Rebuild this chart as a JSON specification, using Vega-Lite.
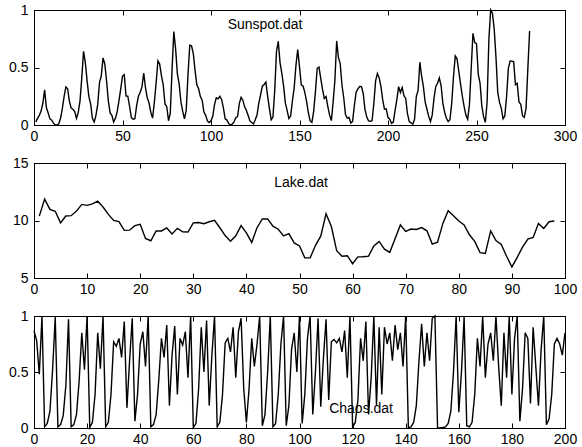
{
  "$schema": "https://vega.github.io/schema/vega-lite/v6.json",
  "padding": {"left": 8, "top": 2, "right": 5, "bottom": 2},
  "background": "white",
  "spacing": 38,
  "bounds": "flush",
  "config": {
    "view": {"stroke": "black", "strokeWidth": 1},
    "axis": {
      "domainColor": "black", "tickColor": "black", "labelColor": "black",
      "labelFont": "Liberation Sans", "labelFontSize": 14,
      "tickSize": -5, "labelPadding": 11, "grid": false,
      "labelFlush": false, "labelOverlap": false, "labelBound": false
    },
    "axisBottom": {"labelPadding": 9}
  },
  "datasets": {
    "sunspot": [
      {"t":1,"v":0.026},{"t":2,"v":0.058},{"t":3,"v":0.084},{"t":4,"v":0.121},{"t":5,"v":0.189},{"t":6,"v":0.305},{"t":7,"v":0.152},{"t":8,"v":0.105},{"t":9,"v":0.053},{"t":10,"v":0.042},
      {"t":11,"v":0.016},{"t":12,"v":0},{"t":13,"v":0},{"t":14,"v":0.011},{"t":15,"v":0.058},{"t":16,"v":0.142},{"t":17,"v":0.247},{"t":18,"v":0.331},{"t":19,"v":0.315},{"t":20,"v":0.205},
      {"t":21,"v":0.147},{"t":22,"v":0.137},{"t":23,"v":0.116},{"t":24,"v":0.058},{"t":25,"v":0.110},{"t":26,"v":0.210},{"t":27,"v":0.410},{"t":28,"v":0.641},{"t":29,"v":0.542},{"t":30,"v":0.384},
      {"t":31,"v":0.247},{"t":32,"v":0.184},{"t":33,"v":0.058},{"t":34,"v":0.026},{"t":35,"v":0.084},{"t":36,"v":0.179},{"t":37,"v":0.368},{"t":38,"v":0.426},{"t":39,"v":0.584},{"t":40,"v":0.531},
      {"t":41,"v":0.384},{"t":42,"v":0.210},{"t":43,"v":0.105},{"t":44,"v":0.084},{"t":45,"v":0.026},{"t":46,"v":0.058},{"t":47,"v":0.116},{"t":48,"v":0.210},{"t":49,"v":0.315},{"t":50,"v":0.425},
      {"t":51,"v":0.438},{"t":52,"v":0.251},{"t":53,"v":0.251},{"t":54,"v":0.161},{"t":55,"v":0.064},{"t":56,"v":0.050},{"t":57,"v":0.054},{"t":58,"v":0.170},{"t":59,"v":0.250},{"t":60,"v":0.284},
      {"t":61,"v":0.331},{"t":62,"v":0.452},{"t":63,"v":0.322},{"t":64,"v":0.237},{"t":65,"v":0.191},{"t":66,"v":0.110},{"t":67,"v":0.060},{"t":68,"v":0.199},{"t":69,"v":0.367},{"t":70,"v":0.558},
      {"t":71,"v":0.530},{"t":72,"v":0.429},{"t":73,"v":0.350},{"t":74,"v":0.183},{"t":75,"v":0.161},{"t":76,"v":0.037},{"t":77,"v":0.104},{"t":78,"v":0.486},{"t":79,"v":0.812},{"t":80,"v":0.662},
      {"t":81,"v":0.446},{"t":82,"v":0.358},{"t":83,"v":0.202},{"t":84,"v":0.120},{"t":85,"v":0.054},{"t":86,"v":0.127},{"t":87,"v":0.436},{"t":88,"v":0.694},{"t":89,"v":0.688},{"t":90,"v":0.621},
      {"t":91,"v":0.473},{"t":92,"v":0.350},{"t":93,"v":0.315},{"t":94,"v":0.247},{"t":95,"v":0.216},{"t":96,"v":0.112},{"t":97,"v":0.084},{"t":98,"v":0.034},{"t":99,"v":0.022},{"t":100,"v":0.036},
      {"t":101,"v":0.076},{"t":102,"v":0.179},{"t":103,"v":0.237},{"t":104,"v":0.227},{"t":105,"v":0.250},{"t":106,"v":0.222},{"t":107,"v":0.148},{"t":108,"v":0.053},{"t":109,"v":0.043},{"t":110,"v":0.013},
      {"t":111,"v":0},{"t":112,"v":0.007},{"t":113,"v":0.026},{"t":114,"v":0.064},{"t":115,"v":0.073},{"t":116,"v":0.186},{"t":117,"v":0.241},{"t":118,"v":0.216},{"t":119,"v":0.158},{"t":120,"v":0.126},
      {"t":121,"v":0.082},{"t":122,"v":0.035},{"t":123,"v":0.021},{"t":124,"v":0.009},{"t":125,"v":0.045},{"t":126,"v":0.087},{"t":127,"v":0.191},{"t":128,"v":0.261},{"t":129,"v":0.338},{"t":130,"v":0.352},
      {"t":131,"v":0.373},{"t":132,"v":0.251},{"t":133,"v":0.145},{"t":134,"v":0.045},{"t":135,"v":0.069},{"t":136,"v":0.299},{"t":137,"v":0.639},{"t":138,"v":0.727},{"t":139,"v":0.543},{"t":140,"v":0.451},
      {"t":141,"v":0.340},{"t":142,"v":0.193},{"t":143,"v":0.127},{"t":144,"v":0.056},{"t":145,"v":0.079},{"t":146,"v":0.211},{"t":147,"v":0.323},{"t":148,"v":0.518},{"t":149,"v":0.656},{"t":150,"v":0.506},
      {"t":151,"v":0.350},{"t":152,"v":0.339},{"t":153,"v":0.284},{"t":154,"v":0.205},{"t":155,"v":0.108},{"t":156,"v":0.035},{"t":157,"v":0.023},{"t":158,"v":0.119},{"t":159,"v":0.288},{"t":160,"v":0.493},
      {"t":161,"v":0.504},{"t":162,"v":0.406},{"t":163,"v":0.311},{"t":164,"v":0.231},{"t":165,"v":0.247},{"t":166,"v":0.160},{"t":167,"v":0.086},{"t":168,"v":0.038},{"t":169,"v":0.198},{"t":170,"v":0.389},
      {"t":171,"v":0.731},{"t":172,"v":0.585},{"t":173,"v":0.534},{"t":174,"v":0.348},{"t":175,"v":0.235},{"t":176,"v":0.089},{"t":177,"v":0.059},{"t":178,"v":0.065},{"t":179,"v":0.018},{"t":180,"v":0.032},
      {"t":181,"v":0.170},{"t":182,"v":0.285},{"t":183,"v":0.314},{"t":184,"v":0.335},{"t":185,"v":0.334},{"t":186,"v":0.274},{"t":187,"v":0.134},{"t":188,"v":0.069},{"t":189,"v":0.036},{"t":190,"v":0.033},
      {"t":191,"v":0.037},{"t":192,"v":0.187},{"t":193,"v":0.384},{"t":194,"v":0.447},{"t":195,"v":0.410},{"t":196,"v":0.336},{"t":197,"v":0.220},{"t":198,"v":0.138},{"t":199,"v":0.140},{"t":200,"v":0.064},
      {"t":201,"v":0.050},{"t":202,"v":0.014},{"t":203,"v":0.026},{"t":204,"v":0.128},{"t":205,"v":0.221},{"t":206,"v":0.334},{"t":207,"v":0.283},{"t":208,"v":0.326},{"t":209,"v":0.255},{"t":210,"v":0.231},
      {"t":211,"v":0.098},{"t":212,"v":0.030},{"t":213,"v":0.019},{"t":214,"v":0.007},{"t":215,"v":0.050},{"t":216,"v":0.249},{"t":217,"v":0.300},{"t":218,"v":0.546},{"t":219,"v":0.424},{"t":220,"v":0.334},
      {"t":221,"v":0.198},{"t":222,"v":0.137},{"t":223,"v":0.075},{"t":224,"v":0.030},{"t":225,"v":0.088},{"t":226,"v":0.233},{"t":227,"v":0.336},{"t":228,"v":0.363},{"t":229,"v":0.409},{"t":230,"v":0.341},
      {"t":231,"v":0.188},{"t":232,"v":0.111},{"t":233,"v":0.058},{"t":234,"v":0.030},{"t":235,"v":0.046},{"t":236,"v":0.190},{"t":237,"v":0.419},{"t":238,"v":0.601},{"t":239,"v":0.576},{"t":240,"v":0.467},
      {"t":241,"v":0.356},{"t":242,"v":0.250},{"t":243,"v":0.161},{"t":244,"v":0.086},{"t":245,"v":0.050},{"t":246,"v":0.175},{"t":247,"v":0.487},{"t":248,"v":0.797},{"t":249,"v":0.717},{"t":250,"v":0.708},
      {"t":251,"v":0.441},{"t":252,"v":0.365},{"t":253,"v":0.166},{"t":254,"v":0.073},{"t":255,"v":0.023},{"t":256,"v":0.200},{"t":257,"v":0.745},{"t":258,"v":1.000},{"t":259,"v":0.972},{"t":260,"v":0.836},
      {"t":261,"v":0.590},{"t":262,"v":0.283},{"t":263,"v":0.197},{"t":264,"v":0.147},{"t":265,"v":0.054},{"t":266,"v":0.079},{"t":267,"v":0.247},{"t":268,"v":0.493},{"t":269,"v":0.557},{"t":270,"v":0.555},
      {"t":271,"v":0.549},{"t":272,"v":0.350},{"t":273,"v":0.362},{"t":274,"v":0.200},{"t":275,"v":0.181},{"t":276,"v":0.081},{"t":277,"v":0.066},{"t":278,"v":0.145},{"t":279,"v":0.486},{"t":280,"v":0.817}
    ],
    "lake": [
      {"t":1,"v":10.38},{"t":2,"v":11.86},{"t":3,"v":10.97},{"t":4,"v":10.80},{"t":5,"v":9.79},{"t":6,"v":10.39},{"t":7,"v":10.42},{"t":8,"v":10.82},{"t":9,"v":11.40},{"t":10,"v":11.32},
      {"t":11,"v":11.44},{"t":12,"v":11.68},{"t":13,"v":11.17},{"t":14,"v":10.53},{"t":15,"v":10.01},{"t":16,"v":9.91},{"t":17,"v":9.14},{"t":18,"v":9.16},{"t":19,"v":9.55},{"t":20,"v":9.67},
      {"t":21,"v":8.44},{"t":22,"v":8.24},{"t":23,"v":9.10},{"t":24,"v":9.09},{"t":25,"v":9.35},{"t":26,"v":8.82},{"t":27,"v":9.32},{"t":28,"v":9.01},{"t":29,"v":9.00},{"t":30,"v":9.80},
      {"t":31,"v":9.83},{"t":32,"v":9.72},{"t":33,"v":9.89},{"t":34,"v":10.01},{"t":35,"v":9.37},{"t":36,"v":8.69},{"t":37,"v":8.19},{"t":38,"v":8.67},{"t":39,"v":9.55},{"t":40,"v":8.92},
      {"t":41,"v":8.09},{"t":42,"v":9.37},{"t":43,"v":10.13},{"t":44,"v":10.14},{"t":45,"v":9.51},{"t":46,"v":9.24},{"t":47,"v":8.66},{"t":48,"v":8.86},{"t":49,"v":8.05},{"t":50,"v":7.79},
      {"t":51,"v":6.75},{"t":52,"v":6.75},{"t":53,"v":7.82},{"t":54,"v":8.64},{"t":55,"v":10.58},{"t":56,"v":9.48},{"t":57,"v":7.38},{"t":58,"v":6.90},{"t":59,"v":6.94},{"t":60,"v":6.24},
      {"t":61,"v":6.84},{"t":62,"v":6.85},{"t":63,"v":6.90},{"t":64,"v":7.79},{"t":65,"v":8.18},{"t":66,"v":7.51},{"t":67,"v":7.23},{"t":68,"v":8.42},{"t":69,"v":9.61},{"t":70,"v":9.05},
      {"t":71,"v":9.26},{"t":72,"v":9.22},{"t":73,"v":9.38},{"t":74,"v":9.10},{"t":75,"v":7.95},{"t":76,"v":8.12},{"t":77,"v":9.75},{"t":78,"v":10.85},{"t":79,"v":10.41},{"t":80,"v":9.96},
      {"t":81,"v":9.61},{"t":82,"v":8.76},{"t":83,"v":8.18},{"t":84,"v":7.21},{"t":85,"v":7.13},{"t":86,"v":9.10},{"t":87,"v":8.25},{"t":88,"v":7.91},{"t":89,"v":6.89},{"t":90,"v":5.96},
      {"t":91,"v":6.80},{"t":92,"v":7.68},{"t":93,"v":8.38},{"t":94,"v":8.52},{"t":95,"v":9.74},{"t":96,"v":9.31},{"t":97,"v":9.89},{"t":98,"v":9.96}
    ],
    "chaos": [
      {"t":0,"v":0.87},{"t":1,"v":0.78},{"t":2,"v":0.48},{"t":3,"v":1.0},{"t":4,"v":0.01},{"t":5,"v":0.04},{"t":6,"v":0.15},{"t":7,"v":0.52},{"t":8,"v":0.99},{"t":9,"v":0.01},
      {"t":10,"v":0.03},{"t":11,"v":0.11},{"t":12,"v":0.38},{"t":13,"v":0.97},{"t":14,"v":0.01},{"t":15,"v":0.03},{"t":16,"v":0.12},{"t":17,"v":0.42},{"t":18,"v":0.85},{"t":19,"v":0.52},
      {"t":20,"v":1.0},{"t":21,"v":0.005},{"t":22,"v":0.05},{"t":23,"v":0.3},{"t":24,"v":0.85},{"t":25,"v":0.53},{"t":26,"v":1.0},{"t":27,"v":0.01},{"t":28,"v":0.05},{"t":29,"v":0.3},
      {"t":30,"v":0.77},{"t":31,"v":0.73},{"t":32,"v":0.8},{"t":33,"v":0.63},{"t":34,"v":0.95},{"t":35,"v":0.18},{"t":36,"v":0.6},{"t":37,"v":0.98},{"t":38,"v":0.06},{"t":39,"v":0.3},
      {"t":40,"v":0.75},{"t":41,"v":0.86},{"t":42,"v":0.55},{"t":43,"v":1.0},{"t":44,"v":0.01},{"t":45,"v":0.03},{"t":46,"v":0.12},{"t":47,"v":0.43},{"t":48,"v":0.8},{"t":49,"v":0.63},
      {"t":50,"v":0.92},{"t":51,"v":0.2},{"t":52,"v":0.65},{"t":53,"v":0.91},{"t":54,"v":0.3},{"t":55,"v":0.8},{"t":56,"v":0.74},{"t":57,"v":0.86},{"t":58,"v":0.45},{"t":59,"v":1.0},
      {"t":60,"v":0.005},{"t":61,"v":0.04},{"t":62,"v":0.35},{"t":63,"v":0.9},{"t":64,"v":0.5},{"t":65,"v":0.96},{"t":66,"v":0.2},{"t":67,"v":0.65},{"t":68,"v":1.0},{"t":69,"v":0.01},
      {"t":70,"v":0.05},{"t":71,"v":0.3},{"t":72,"v":0.76},{"t":73,"v":0.8},{"t":74,"v":0.68},{"t":75,"v":0.9},{"t":76,"v":0.45},{"t":77,"v":0.86},{"t":78,"v":0.98},{"t":79,"v":0.35},
      {"t":80,"v":0.05},{"t":81,"v":0.35},{"t":82,"v":0.8},{"t":83,"v":0.55},{"t":84,"v":0.75},{"t":85,"v":1.0},{"t":86,"v":0.02},{"t":87,"v":0.12},{"t":88,"v":0.5},{"t":89,"v":1.0},
      {"t":90,"v":0.01},{"t":91,"v":0.04},{"t":92,"v":0.3},{"t":93,"v":0.75},{"t":94,"v":1.0},{"t":95,"v":0.02},{"t":96,"v":0.2},{"t":97,"v":0.7},{"t":98,"v":0.85},{"t":99,"v":0.5},
      {"t":100,"v":1.0},{"t":101,"v":0.04},{"t":102,"v":0.3},{"t":103,"v":0.8},{"t":104,"v":1.0},{"t":105,"v":0.12},{"t":106,"v":0.5},{"t":107,"v":0.98},{"t":108,"v":0.19},{"t":109,"v":0.62},
      {"t":110,"v":0.97},{"t":111,"v":0.25},{"t":112,"v":0.77},{"t":113,"v":0.79},{"t":114,"v":0.76},{"t":115,"v":0.8},{"t":116,"v":0.68},{"t":117,"v":0.87},{"t":118,"v":0.45},{"t":119,"v":1.0},
      {"t":120,"v":0.01},{"t":121,"v":0.05},{"t":122,"v":0.25},{"t":123,"v":0.8},{"t":124,"v":0.6},{"t":125,"v":0.95},{"t":126,"v":0.12},{"t":127,"v":0.45},{"t":128,"v":1.0},{"t":129,"v":0.2},
      {"t":130,"v":0.9},{"t":131,"v":0.3},{"t":132,"v":0.9},{"t":133,"v":0.75},{"t":134,"v":0.85},{"t":135,"v":0.6},{"t":136,"v":0.92},{"t":137,"v":0.7},{"t":138,"v":0.85},{"t":139,"v":0.55},
      {"t":140,"v":1.0},{"t":141,"v":0.003},{"t":142,"v":0.01},{"t":143,"v":0.05},{"t":144,"v":0.2},{"t":145,"v":0.6},{"t":146,"v":0.93},{"t":147,"v":0.55},{"t":148,"v":0.85},{"t":149,"v":0.6},
      {"t":150,"v":0.98},{"t":151,"v":1.0},{"t":152,"v":0.0005},{"t":153,"v":0.002},{"t":154,"v":0.005},{"t":155,"v":0.01},{"t":156,"v":0.04},{"t":157,"v":0.15},{"t":158,"v":0.5},{"t":159,"v":1.0},
      {"t":160,"v":0.14},{"t":161,"v":0.5},{"t":162,"v":0.99},{"t":163,"v":0.02},{"t":164,"v":0.01},{"t":165,"v":0.05},{"t":166,"v":0.3},{"t":167,"v":0.8},{"t":168,"v":0.55},{"t":169,"v":1.0},
      {"t":170,"v":0.45},{"t":171,"v":0.75},{"t":172,"v":0.85},{"t":173,"v":0.6},{"t":174,"v":1.0},{"t":175,"v":0.55},{"t":176,"v":0.2},{"t":177,"v":0.85},{"t":178,"v":0.45},{"t":179,"v":1.0},
      {"t":180,"v":0.3},{"t":181,"v":0.8},{"t":182,"v":1.0},{"t":183,"v":0.06},{"t":184,"v":0.35},{"t":185,"v":0.85},{"t":186,"v":0.8},{"t":187,"v":0.22},{"t":188,"v":0.9},{"t":189,"v":0.55},
      {"t":190,"v":0.2},{"t":191,"v":0.7},{"t":192,"v":1.0},{"t":193,"v":0.03},{"t":194,"v":0.08},{"t":195,"v":0.3},{"t":196,"v":0.75},{"t":197,"v":0.8},{"t":198,"v":0.75},{"t":199,"v":0.65},
      {"t":200,"v":0.85}
    ]
  },
  "vconcat": [
    {
      "width": 531, "height": 115,
      "data": {"name": "sunspot"},
      "layer": [
        {
          "mark": {"type": "line", "color": "black", "strokeWidth": 1.4},
          "encoding": {
            "x": {"field": "t", "type": "quantitative", "scale": {"domain": [0, 300], "nice": false, "zero": false},
                  "axis": {"orient": "bottom", "values": [0, 50, 100, 150, 200, 250, 300], "title": null, "format": "d"}},
            "y": {"field": "v", "type": "quantitative", "scale": {"domain": [0, 1], "nice": false},
                  "axis": {"orient": "left", "values": [0, 0.5, 1], "title": null, "format": "~f"}}
          }
        },
        {
          "mark": {"type": "line", "strokeOpacity": 0},
          "encoding": {
            "x": {"field": "t", "type": "quantitative", "axis": {"orient": "top", "values": [0, 50, 100, 150, 200, 250, 300], "labels": false, "title": null}},
            "y": {"field": "v", "type": "quantitative", "axis": {"orient": "right", "values": [0, 0.5, 1], "labels": false, "title": null}}
          }
        },
        {
          "data": {"values": [{}]},
          "mark": {"type": "text", "font": "Liberation Sans", "fontSize": 14, "align": "center", "baseline": "middle", "color": "black"},
          "encoding": {
            "x": {"datum": 130.5, "type": "quantitative", "axis": null},
            "y": {"datum": 0.87, "type": "quantitative", "axis": null},
            "text": {"value": "Sunspot.dat"}
          }
        }
      ],
      "resolve": {"axis": {"x": "independent", "y": "independent"}}
    },
    {
      "width": 531, "height": 115,
      "data": {"name": "lake"},
      "layer": [
        {
          "mark": {"type": "line", "color": "black", "strokeWidth": 1.4},
          "encoding": {
            "x": {"field": "t", "type": "quantitative", "scale": {"domain": [0, 100], "nice": false, "zero": false},
                  "axis": {"orient": "bottom", "values": [0, 10, 20, 30, 40, 50, 60, 70, 80, 90, 100], "title": null, "format": "d"}},
            "y": {"field": "v", "type": "quantitative", "scale": {"domain": [5, 15], "nice": false, "zero": false},
                  "axis": {"orient": "left", "values": [5, 10, 15], "title": null, "format": "d"}}
          }
        },
        {
          "mark": {"type": "line", "strokeOpacity": 0},
          "encoding": {
            "x": {"field": "t", "type": "quantitative", "axis": {"orient": "top", "values": [0, 10, 20, 30, 40, 50, 60, 70, 80, 90, 100], "labels": false, "title": null}},
            "y": {"field": "v", "type": "quantitative", "axis": {"orient": "right", "values": [5, 10, 15], "labels": false, "title": null}}
          }
        },
        {
          "data": {"values": [{}]},
          "mark": {"type": "text", "font": "Liberation Sans", "fontSize": 14, "align": "center", "baseline": "middle", "color": "black"},
          "encoding": {
            "x": {"datum": 50.3, "type": "quantitative", "axis": null},
            "y": {"datum": 13.3, "type": "quantitative", "axis": null},
            "text": {"value": "Lake.dat"}
          }
        }
      ],
      "resolve": {"axis": {"x": "independent", "y": "independent"}}
    },
    {
      "width": 531, "height": 112,
      "data": {"name": "chaos"},
      "layer": [
        {
          "mark": {"type": "line", "color": "black", "strokeWidth": 1.4},
          "encoding": {
            "x": {"field": "t", "type": "quantitative", "scale": {"domain": [0, 200], "nice": false, "zero": false},
                  "axis": {"orient": "bottom", "values": [0, 20, 40, 60, 80, 100, 120, 140, 160, 180, 200], "title": null, "format": "d"}},
            "y": {"field": "v", "type": "quantitative", "scale": {"domain": [0, 1], "nice": false},
                  "axis": {"orient": "left", "values": [0, 0.5, 1], "title": null, "format": "~f"}}
          }
        },
        {
          "mark": {"type": "line", "strokeOpacity": 0},
          "encoding": {
            "x": {"field": "t", "type": "quantitative", "axis": {"orient": "top", "values": [0, 20, 40, 60, 80, 100, 120, 140, 160, 180, 200], "labels": false, "title": null}},
            "y": {"field": "v", "type": "quantitative", "axis": {"orient": "right", "values": [0, 0.5, 1], "labels": false, "title": null}}
          }
        },
        {
          "data": {"values": [{}]},
          "mark": {"type": "text", "font": "Liberation Sans", "fontSize": 14, "align": "center", "baseline": "middle", "color": "black"},
          "encoding": {
            "x": {"datum": 123.2, "type": "quantitative", "axis": null},
            "y": {"datum": 0.17, "type": "quantitative", "axis": null},
            "text": {"value": "Chaos.dat"}
          }
        }
      ],
      "resolve": {"axis": {"x": "independent", "y": "independent"}}
    }
  ]
}
